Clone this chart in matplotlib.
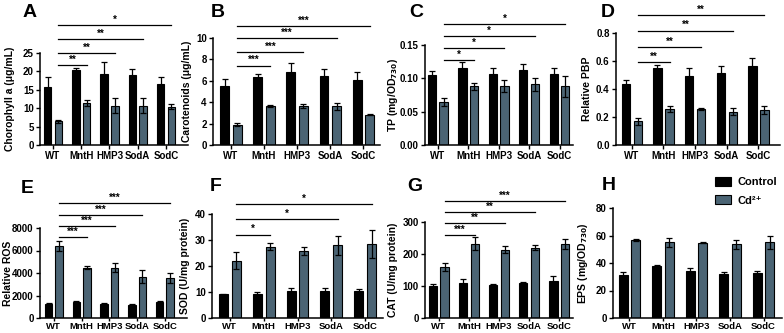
import matplotlib
matplotlib.use("Agg")
import matplotlib.pyplot as plt
import numpy as np

plt.rcParams['font.family'] = ['Liberation Sans', 'DejaVu Sans']
plt.rcParams['font.weight'] = 'bold'
plt.rcParams['mathtext.default'] = 'bf'

categories = ["WT", "MntH", "HMP3", "SodA", "SodC"]

chl_ctrl = [15.7, 20.4, 19.4, 19.1, 16.6]
chl_ctrl_err = [2.7, 0.5, 3.1, 1.6, 1.9]
chl_cd = [6.4, 11.4, 10.7, 10.7, 10.4]
chl_cd_err = [0.5, 0.7, 2.1, 2.1, 0.7]

car_ctrl = [5.55, 6.35, 6.78, 6.47, 6.12]
car_ctrl_err = [0.62, 0.32, 0.88, 0.63, 0.68]
car_cd = [1.9, 3.68, 3.62, 3.62, 2.82]
car_cd_err = [0.13, 0.1, 0.18, 0.35, 0.06]

tp_ctrl = [0.105, 0.115, 0.107, 0.112, 0.107]
tp_ctrl_err = [0.006, 0.009, 0.009, 0.010, 0.009]
tp_cd = [0.065, 0.088, 0.088, 0.091, 0.088]
tp_cd_err = [0.006, 0.005, 0.009, 0.010, 0.016]

pbp_ctrl = [0.437, 0.549, 0.49, 0.515, 0.566]
pbp_ctrl_err = [0.028, 0.025, 0.058, 0.05, 0.055]
pbp_cd = [0.168, 0.256, 0.256, 0.239, 0.251]
pbp_cd_err = [0.023, 0.023, 0.006, 0.023, 0.027]

ros_ctrl = [1280, 1450, 1280, 1190, 1450]
ros_ctrl_err = [60, 80, 50, 40, 80]
ros_cd = [6420, 4480, 4480, 3670, 3550]
ros_cd_err = [450, 150, 390, 600, 480]

sod_ctrl = [9.1, 9.1, 10.5, 10.2, 10.4]
sod_ctrl_err = [0.3, 1.0, 1.1, 1.2, 0.9]
sod_cd = [22.1, 27.4, 25.9, 27.9, 28.5]
sod_cd_err = [3.2, 1.3, 1.6, 3.5, 5.3]

cat_ctrl = [100, 110, 104, 110, 117]
cat_ctrl_err = [7, 13, 1.5, 3, 13]
cat_cd = [159, 232, 213, 220, 232]
cat_cd_err = [13, 20, 11, 7, 16]

eps_ctrl = [31.2, 37.9, 33.9, 31.7, 32.4]
eps_ctrl_err = [2.2, 0.6, 2.4, 2.0, 1.9]
eps_cd = [56.7, 55.2, 54.7, 53.5, 55.2]
eps_cd_err = [0.8, 3.2, 0.5, 3.0, 4.8]

W, H = 784, 333
fig = plt.figure(figsize=(W / 100, H / 100), dpi=100)

CTRL_COLOR = "black"
CD_COLOR = "#4b6474"
OFF = 0.19
BW = 0.27

panels = [
    dict(letter="A", c=chl_ctrl, ce=chl_ctrl_err, d=chl_cd, de=chl_cd_err,
         ylabel="Chorophyll a (μg/mL)", yt=[0, 5, 10, 15, 20, 25], ytl=None,
         box=(40, 188, 53, 145), xlim=(-0.46, 4.78),
         sig=[(1, "**", 0.87), (2, "**", 1.0), (3, "**", 1.15), (4, "*", 1.30)],
         lpos=(23, 4), ylx=15),
    dict(letter="B", c=car_ctrl, ce=car_ctrl_err, d=car_cd, de=car_cd_err,
         ylabel="Carotenoids (μg/mL)", yt=[0, 2, 4, 6, 8, 10], ytl=None,
         box=(213, 380, 38, 145), xlim=(-0.54, 4.5),
         sig=[(1, "***", 0.74), (2, "***", 0.87), (3, "***", 1.0), (4, "***", 1.11)],
         lpos=(211, 4), ylx=192),
    dict(letter="C", c=tp_ctrl, ce=tp_ctrl_err, d=tp_cd, de=tp_cd_err,
         ylabel="TP (mg/OD$_{730}$)", yt=[0, 0.05, 0.10, 0.15],
         ytl=["0.00", "0.05", "0.10", "0.15"],
         box=(425, 573, 45, 145), xlim=(-0.42, 4.44),
         sig=[(1, "*", 0.85), (2, "*", 0.97), (3, "*", 1.09), (4, "*", 1.21)],
         lpos=(409, 4), ylx=400),
    dict(letter="D", c=pbp_ctrl, ce=pbp_ctrl_err, d=pbp_cd, de=pbp_cd_err,
         ylabel="Relative PBP", yt=[0, 0.2, 0.4, 0.6, 0.8],
         ytl=["0.0", "0.2", "0.4", "0.6", "0.8"],
         box=(616, 780, 33, 145), xlim=(-0.5, 4.68),
         sig=[(1, "**", 0.74), (2, "**", 0.875), (3, "**", 1.02), (4, "**", 1.16)],
         lpos=(601, 4), ylx=592),
    dict(letter="E", c=ros_ctrl, ce=ros_ctrl_err, d=ros_cd, de=ros_cd_err,
         ylabel="Relative ROS", yt=[0, 2000, 4000, 6000, 8000], ytl=None,
         box=(40, 187, 228, 318), xlim=(-0.5, 4.8),
         sig=[(1, "***", 0.90), (2, "***", 1.02), (3, "***", 1.14), (4, "***", 1.28)],
         lpos=(21, 180), ylx=13),
    dict(letter="F", c=sod_ctrl, ce=sod_ctrl_err, d=sod_cd, de=sod_cd_err,
         ylabel="SOD (U/mg protein)", yt=[0, 10, 20, 30, 40], ytl=None,
         box=(212, 383, 214, 318), xlim=(-0.53, 4.53),
         sig=[(1, "*", 0.80), (3, "*", 0.95), (4, "*", 1.095)],
         lpos=(210, 178), ylx=190),
    dict(letter="G", c=cat_ctrl, ce=cat_ctrl_err, d=cat_cd, de=cat_cd_err,
         ylabel="CAT (U/mg protein)", yt=[0, 100, 200, 300], ytl=None,
         box=(425, 573, 222, 318), xlim=(-0.46, 4.46),
         sig=[(1, "***", 0.865), (2, "**", 0.99), (3, "**", 1.10), (4, "***", 1.22)],
         lpos=(407, 178), ylx=398),
    dict(letter="H", c=eps_ctrl, ce=eps_ctrl_err, d=eps_cd, de=eps_cd_err,
         ylabel="EPS (mg/OD$_{730}$)", yt=[0, 20, 40, 60, 80], ytl=None,
         box=(613, 782, 208, 318), xlim=(-0.49, 4.55),
         sig=[], lpos=(602, 177), ylx=590),
]

x = np.arange(len(categories))
legend_handles = None
for i, p in enumerate(panels):
    l, r, t, b = p["box"]
    ax = fig.add_axes([l / W, 1 - b / H, (r - l) / W, (b - t) / H])
    h1 = ax.bar(x - OFF, p["c"], BW, color=CTRL_COLOR, edgecolor="black", linewidth=0.8, zorder=2)
    h2 = ax.bar(x + OFF, p["d"], BW, color=CD_COLOR, edgecolor="black", linewidth=0.8, zorder=2)
    ax.errorbar(x - OFF, p["c"], yerr=p["ce"], fmt="none", ecolor="black",
                elinewidth=0.9, capsize=2.2, capthick=0.9, zorder=3)
    ax.errorbar(x + OFF, p["d"], yerr=p["de"], fmt="none", ecolor="black",
                elinewidth=0.9, capsize=2.2, capthick=0.9, zorder=3)
    legend_handles = (h1, h2)
    ax.set_xlim(*p["xlim"])
    ax.set_ylim(p["yt"][0], p["yt"][-1])
    ax.set_yticks(p["yt"])
    if p["ytl"] is not None:
        ax.set_yticklabels(p["ytl"])
    ax.set_xticks(x)
    ax.set_xticklabels(categories)
    for s in ["top", "right"]:
        ax.spines[s].set_visible(False)
    for s in ["left", "bottom"]:
        ax.spines[s].set_linewidth(1.1)
    ax.tick_params(axis="y", labelsize=7, width=1.0, length=3, pad=1.5)
    bottom_row = i >= 4
    ax.tick_params(axis="x", labelsize=6.8 if bottom_row else 7, width=1.0,
                   length=2.5 if bottom_row else 3, pad=0.5 if bottom_row else 1.5)
    for lab in ax.get_xticklabels() + ax.get_yticklabels():
        lab.set_fontweight("bold")
    ax.set_ylabel(p["ylabel"], fontsize=7.5, fontweight="bold")
    ax.yaxis.set_label_coords(p["ylx"] / W, 1 - (t + b) / 2 / H, transform=fig.transFigure)
    tr = ax.get_xaxis_transform()
    for tgt, lab, yf in p["sig"]:
        ax.plot([0 + OFF, tgt + OFF], [yf, yf], color="black", lw=0.9,
                transform=tr, clip_on=False, zorder=4)
        ax.text((tgt + 2 * OFF) / 2, yf + 0.005, lab, transform=tr, ha="center",
                va="bottom", fontsize=7, fontweight="bold")
    lx, ly = p["lpos"]
    fig.text(lx / W, 1 - ly / H, p["letter"], fontsize=14, fontweight="bold",
             ha="left", va="top")

fig.legend(legend_handles, ["Control", "Cd²⁺"], loc="upper left",
           bbox_to_anchor=(715 / W, 1 - 177 / H), frameon=False,
           prop={"size": 8, "weight": "bold"}, handlelength=1.4, handleheight=0.9,
           handletextpad=0.6, labelspacing=0.7, borderaxespad=0, borderpad=0)

fig.savefig("out.png", dpi=100)
